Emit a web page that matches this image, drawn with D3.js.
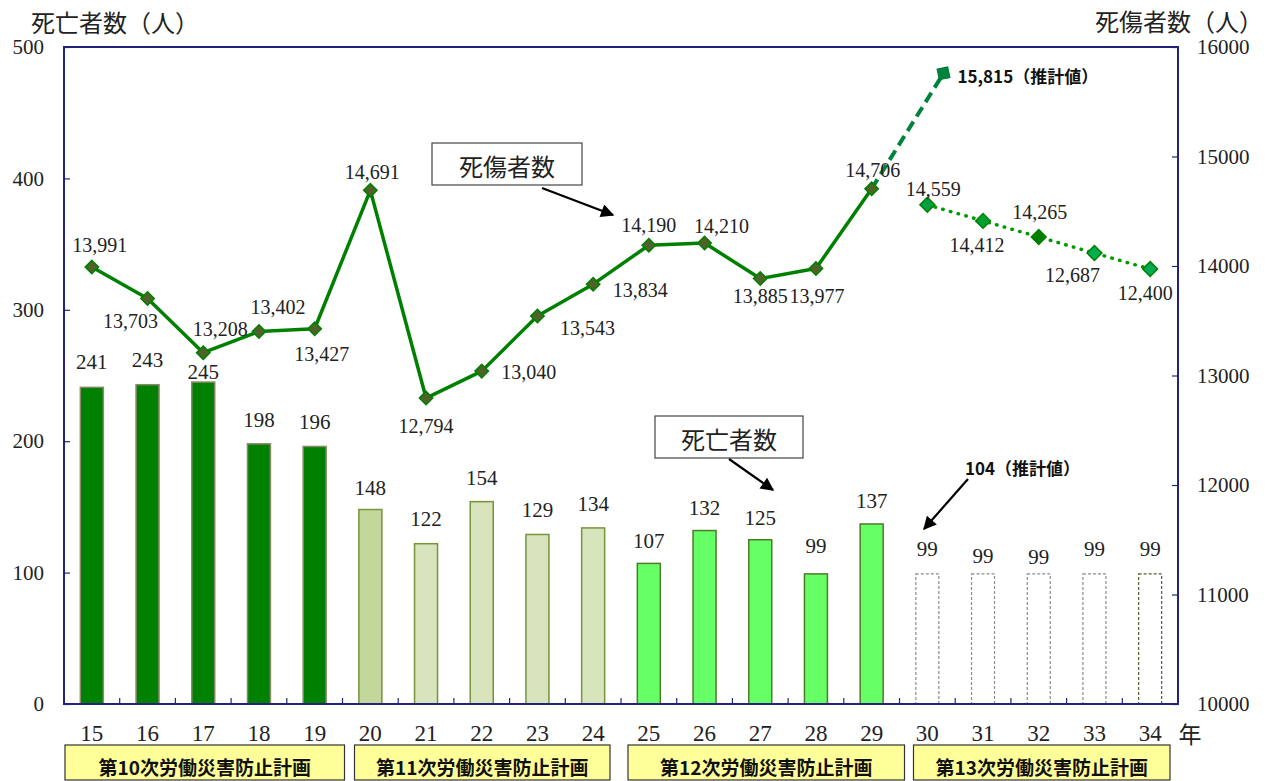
<!DOCTYPE html>
<html><head><meta charset="utf-8">
<script src="https://cdn.jsdelivr.net/npm/d3@7/dist/d3.min.js"></script>
<style>
html,body{margin:0;padding:0;background:#fff;}
svg{display:block;}
</style></head>
<body>
<svg id="chart" width="1274" height="781"></svg>
<script>
// ---------- DATA ----------
const years = ['15','16','17','18','19','20','21','22','23','24','25','26','27','28','29','30','31','32','33','34'];
const deaths = [241,243,245,198,196,148,122,154,129,134,107,132,125,99,137,99,99,99,99,99];
const casualtyYears = ['15','16','17','18','19','20','21','22','23','24','25','26','27','28','29'];
const casualties = [13991,13703,13208,13402,13427,14691,12794,13040,13543,13834,14190,14210,13885,13977,14706];
const casualtyLabels = ['13,991','13,703','13,208','13,402','13,427','14,691','12,794','13,040','13,543','13,834','14,190','14,210','13,885','13,977','14,706'];
const projYear = '30';
const projValue = 15760;
const projLabel = '15,815（推計値）';
const targetYears = ['30','31','32','33','34'];
const targetValues = [14559,14412,14265,14118,13972];
const targetLabels = ['14,559','14,412','14,265','12,687','12,400'];
const deathProjLabel = '104（推計値）';
const planNames = ['第10次労働災害防止計画','第11次労働災害防止計画','第12次労働災害防止計画','第13次労働災害防止計画'];
const planStart = ['15','20','25','30'];
const planEnd = ['19','24','29','34'];
const leftTicks = [0,100,200,300,400,500];
const rightTicks = [10000,11000,12000,13000,14000,15000,16000];

// ---------- STYLE / LAYOUT ----------
const L = 64, R = 1178, T = 47, B = 704;
const serif = '"Liberation Serif","DejaVu Serif",serif';
const cjk = '"Noto Sans CJK JP","Noto Sans CJK SC",sans-serif';
const navy = '#23237a';
const txt = '#222';
const barFill = i => i < 5 ? '#008000' : i === 5 ? '#c4d79b' : i < 10 ? '#d8e4bc' : i < 15 ? '#66ff66' : '#ffffff';
const barStroke = i => i < 5 ? '#8a8a6a' : i < 10 ? '#77933c' : i < 15 ? '#4f7a28' : (i === 19 ? '#4f6228' : '#8c8c8c');
// label placement (dx, dy) for casualty labels
const cLabOff = [[8,-22],[-17,22],[17,-24],[19,-24],[7,25],[2,-18],[0,28],[47,1],[50,12],[47,6],[0,-20],[17,-17],[0,17],[1,27],[1,-19]];
const tLabOff = [[6,-16],[-6,24],[1,-25],[-22,22],[-5,24]];
const barLabNudge = [25,25,10,24,24,22,25,24,24,24,22,23,22,28,23,25,18,17,25,25];
const targetFill = ['#00a040','#00a030','#007f00','#00ad50','#00a850'];

const svg = d3.select('#chart');
const x = d3.scaleBand().domain(years).range([L, R]).paddingInner(0).paddingOuter(0);
const bw = x.bandwidth();
const cx = d => x(d) + bw / 2;
const yL = d3.scaleLinear().domain([0, 500]).range([B, T]);
const yR = d3.scaleLinear().domain([10000, 16000]).range([B, T]);

// ---------- BARS ----------
const barW = 23;
svg.append('g').selectAll('rect').data(deaths).join('rect')
  .attr('x', (d, i) => cx(years[i]) - barW / 2)
  .attr('y', d => yL(d))
  .attr('width', barW)
  .attr('height', d => B - yL(d))
  .attr('fill', (d, i) => barFill(i))
  .attr('stroke', (d, i) => barStroke(i))
  .attr('stroke-width', (d, i) => i < 15 ? 1.5 : 1.2)
  .attr('stroke-dasharray', (d, i) => i < 15 ? null : '3 2');

svg.append('g').selectAll('text').data(deaths).join('text')
  .attr('x', (d, i) => cx(years[i]))
  .attr('y', (d, i) => yL(d) - barLabNudge[i])
  .attr('text-anchor', 'middle').attr('dominant-baseline', 'central')
  .attr('font-family', serif).attr('font-size', 21).attr('fill', txt)
  .text(d => d);

// ---------- FRAME & AXES ----------
svg.append('rect').attr('x', L).attr('y', T).attr('width', R - L).attr('height', B - T)
  .attr('fill', 'none').attr('stroke', navy).attr('stroke-width', 2);

const gl = svg.append('g').attr('transform', `translate(${L},0)`)
  .call(d3.axisLeft(yL).tickValues(leftTicks).tickSizeInner(-6).tickSizeOuter(0).tickPadding(20).tickFormat(d3.format('d')));
gl.select('.domain').remove();
gl.selectAll('line').attr('stroke', navy).attr('stroke-width', 1.2);
gl.selectAll('text').attr('font-family', serif).attr('font-size', 21).attr('fill', txt);

const gr = svg.append('g').attr('transform', `translate(${R},0)`)
  .call(d3.axisRight(yR).tickValues(rightTicks).tickSizeInner(-6).tickSizeOuter(0).tickPadding(19).tickFormat(d3.format('d')));
gr.select('.domain').remove();
gr.selectAll('line').attr('stroke', navy).attr('stroke-width', 1.2);
gr.selectAll('text').attr('font-family', serif).attr('font-size', 21).attr('fill', txt);

// boundary ticks on bottom
svg.append('g').selectAll('line').data(years.slice(1)).join('line')
  .attr('x1', d => x(d)).attr('x2', d => x(d))
  .attr('y1', B).attr('y2', B - 6)
  .attr('stroke', navy).attr('stroke-width', 1.2);

// category labels
svg.append('g').selectAll('text').data(years).join('text')
  .attr('x', d => cx(d)).attr('y', 733)
  .attr('text-anchor', 'middle').attr('dominant-baseline', 'central')
  .attr('font-family', serif).attr('font-size', 23).attr('fill', txt)
  .text(d => d);
svg.append('text').attr('x', 1190).attr('y', 733)
  .attr('text-anchor', 'middle').attr('dominant-baseline', 'central')
  .attr('font-family', cjk).attr('font-size', 23).attr('fill', txt).text('年');

// axis titles
svg.append('text').attr('x', 31).attr('y', 21).attr('dominant-baseline', 'central')
  .attr('font-family', cjk).attr('font-size', 24).attr('fill', txt).text('死亡者数（人）');
svg.append('text').attr('x', 1263).attr('y', 20).attr('text-anchor', 'end').attr('dominant-baseline', 'central')
  .attr('font-family', cjk).attr('font-size', 24).attr('fill', txt).text('死傷者数（人）');

// ---------- LINES ----------
const line = d3.line().x(d => d[0]).y(d => d[1]);
const cPts = casualties.map((v, i) => [cx(casualtyYears[i]), yR(v)]);
svg.append('path').attr('d', line(cPts)).attr('fill', 'none')
  .attr('stroke', '#008000').attr('stroke-width', 3.5).attr('stroke-linejoin', 'round');

// projected dashed segment
const lastPt = cPts[cPts.length - 1];
const projPt = [cx(projYear) + bw * 0.29, yR(projValue)];
svg.append('path').attr('d', line([lastPt, projPt])).attr('fill', 'none')
  .attr('stroke', '#00843d').attr('stroke-width', 4).attr('stroke-dasharray', '11 6');

// target dotted line
const tPts = targetValues.map((v, i) => [cx(targetYears[i]), yR(v)]);
svg.append('path').attr('d', line(tPts)).attr('fill', 'none')
  .attr('stroke', '#009a00').attr('stroke-width', 3.5).attr('stroke-linecap', 'round')
  .attr('stroke-dasharray', '0.5 7.5');

// markers
const sq = d3.symbol().type(d3.symbolSquare);
svg.append('g').selectAll('path').data(cPts).join('path')
  .attr('d', sq.size(90)())
  .attr('transform', d => `translate(${d[0]},${d[1]}) rotate(45)`)
  .attr('fill', '#4f6228').attr('stroke', '#008000').attr('stroke-width', 1.5);
svg.append('path').attr('d', d3.symbol().type(d3.symbolSquare).size(120)())
  .attr('transform', `translate(${projPt[0]},${projPt[1]}) rotate(-12)`)
  .attr('fill', '#00843d').attr('stroke', '#007a35').attr('stroke-width', 1);
svg.append('g').selectAll('path').data(tPts).join('path')
  .attr('d', d3.symbol().type(d3.symbolSquare).size(110)())
  .attr('transform', d => `translate(${d[0]},${d[1]}) rotate(45)`)
  .attr('fill', (d, i) => targetFill[i]).attr('stroke', '#007f00').attr('stroke-width', 1.5);

// line labels
svg.append('g').selectAll('text').data(casualtyLabels).join('text')
  .attr('x', (d, i) => cPts[i][0] + cLabOff[i][0])
  .attr('y', (d, i) => cPts[i][1] + cLabOff[i][1])
  .attr('text-anchor', 'middle').attr('dominant-baseline', 'central')
  .attr('font-family', serif).attr('font-size', 20).attr('fill', txt)
  .text(d => d);
svg.append('g').selectAll('text').data(targetLabels).join('text')
  .attr('x', (d, i) => tPts[i][0] + tLabOff[i][0])
  .attr('y', (d, i) => tPts[i][1] + tLabOff[i][1])
  .attr('text-anchor', 'middle').attr('dominant-baseline', 'central')
  .attr('font-family', serif).attr('font-size', 20).attr('fill', txt)
  .text(d => d);
svg.append('text').attr('x', projPt[0] + 14).attr('y', projPt[1] + 2)
  .attr('dominant-baseline', 'central')
  .attr('font-family', cjk).attr('font-size', 17).attr('font-weight', 'bold').attr('fill', '#111')
  .text(projLabel);

// ---------- ANNOTATIONS ----------
const defs = svg.append('defs');
defs.append('marker').attr('id', 'ah').attr('viewBox', '0 0 10 10')
  .attr('refX', 9).attr('refY', 5).attr('markerWidth', 7).attr('markerHeight', 6)
  .attr('markerUnits', 'strokeWidth').attr('orient', 'auto')
  .append('path').attr('d', 'M0,0 L10,5 L0,10 z').attr('fill', '#000');

function callout(bx, by, w, h, label, ax1, ay1, ax2, ay2) {
  svg.append('rect').attr('x', bx).attr('y', by).attr('width', w).attr('height', h)
    .attr('fill', '#fff').attr('stroke', '#444').attr('stroke-width', 1.2);
  svg.append('text').attr('x', bx + w / 2).attr('y', by + h / 2 + 1)
    .attr('text-anchor', 'middle').attr('dominant-baseline', 'central')
    .attr('font-family', cjk).attr('font-size', 24).attr('fill', txt).text(label);
  svg.append('line').attr('x1', ax1).attr('y1', ay1).attr('x2', ax2).attr('y2', ay2)
    .attr('stroke', '#000').attr('stroke-width', 2.2).attr('marker-end', 'url(#ah)');
}
callout(432, 143, 150, 42, '死傷者数', 542, 188, 613, 215);
callout(655, 416, 148, 42, '死亡者数', 729, 459, 773, 490);

svg.append('text').attr('x', 965).attr('y', 467).attr('dominant-baseline', 'central')
  .attr('font-family', cjk).attr('font-size', 17).attr('font-weight', 'bold').attr('fill', '#111')
  .text(deathProjLabel);
svg.append('line').attr('x1', 968).attr('y1', 479).attr('x2', 924).attr('y2', 529)
  .attr('stroke', '#000').attr('stroke-width', 2.2).attr('marker-end', 'url(#ah)');

// ---------- PLAN BOXES ----------
const planInset = [[1, 2], [12, -11], [7, 5], [14, -8]];
const pg = svg.append('g');
planNames.forEach((n, i) => {
  const x0 = x(planStart[i]) + planInset[i][0];
  const x1 = x(planEnd[i]) + bw + planInset[i][1];
  pg.append('rect').attr('x', x0).attr('y', 745).attr('width', x1 - x0).attr('height', 35)
    .attr('fill', '#ffff99').attr('stroke', '#333').attr('stroke-width', 1.2);
  pg.append('text').attr('x', (x0 + x1) / 2).attr('y', 766)
    .attr('text-anchor', 'middle').attr('dominant-baseline', 'central')
    .attr('font-family', cjk).attr('font-size', 19).attr('font-weight', 'bold').attr('fill', '#111')
    .text(n);
});
</script>
</body></html>
